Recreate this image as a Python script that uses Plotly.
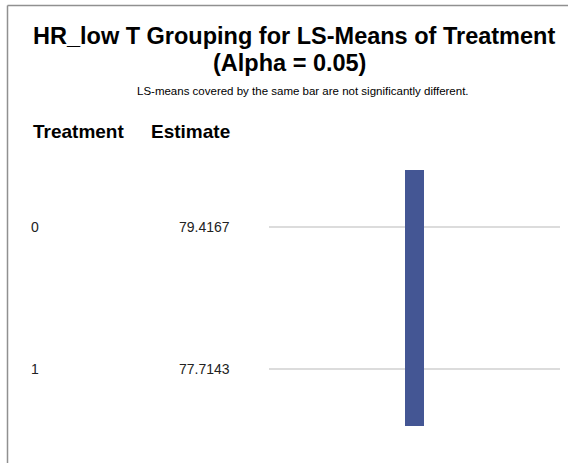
import plotly.graph_objects as go

# ---- data ----
treatments = ["0", "1"]
estimates = ["79.4167", "77.7143"]
# groups of LS-means not significantly different (indices of rows covered)
line_groups = [[0, 1]]
group_positions = [1]

title_line1 = "HR_low T Grouping for LS-Means of Treatment"
title_line2 = "(Alpha = 0.05)"
subtitle = "LS-means covered by the same bar are not significantly different."
col_headers = ["Treatment", "Estimate"]

# ---- layout geometry (pixels) ----
W, H = 568, 463
L, R, T, B = 269, 8, 156, 23
PW, PH = W - L - R, H - T - B
PAD = 0.4
FONT = "Liberation Sans, Arial, sans-serif"


def pxx(x):
    return (x - L) / PW


def pxy(y):
    return (H - B - y) / PH


fig = go.Figure()

bar_base = [min(g) - PAD for g in line_groups]
bar_len = [max(g) - min(g) + 2 * PAD for g in line_groups]
fig.add_trace(go.Bar(
    x=group_positions, y=bar_len, base=bar_base, width=0.064,
    marker=dict(color="#445694", line=dict(width=0)),
    showlegend=False, hoverinfo="skip"))

ann = []
# titles
ann.append(dict(text="<b>" + title_line1 + "</b>", x=pxx(294), y=pxy(36),
                font=dict(size=23.5, color="black", family=FONT)))
ann.append(dict(text="<b>" + title_line2 + "</b>", x=pxx(289), y=pxy(63),
                font=dict(size=23.5, color="black", family=FONT)))
ann.append(dict(text=subtitle, x=pxx(303), y=pxy(91),
                font=dict(size=11.5, color="black", family=FONT)))
# headers
ann.append(dict(text="<b>" + col_headers[0] + "</b>", x=pxx(31), y=pxy(131),
                xanchor="left", font=dict(size=19, color="black", family=FONT)))
ann.append(dict(text="<b>" + col_headers[1] + "</b>", x=pxx(232), y=pxy(131),
                xanchor="right", font=dict(size=19, color="black", family=FONT)))
# rows
for i, (t, e) in enumerate(zip(treatments, estimates)):
    ann.append(dict(text=t, x=pxx(29), y=i, yref="y", xanchor="left",
                    font=dict(size=14, color="#222", family=FONT)))
    ann.append(dict(text=e, x=pxx(232), y=i, yref="y", xanchor="right",
                    font=dict(size=14, color="#222", family=FONT)))

for a in ann:
    a.setdefault("xref", "paper")
    a.setdefault("yref", "paper")
    a.setdefault("xanchor", "center")
    a["yanchor"] = "middle"
    a["showarrow"] = False

shapes = [
    dict(type="line", xref="paper", yref="paper", x0=pxx(7.5), x1=pxx(7.5),
         y0=pxy(5.5), y1=pxy(470), line=dict(color="#909090", width=1.5)),
    dict(type="line", xref="paper", yref="paper", x0=pxx(7.5), x1=pxx(575),
         y0=pxy(5.5), y1=pxy(5.5), line=dict(color="#909090", width=1.5)),
]

fig.update_layout(
    width=W, height=H,
    margin=dict(l=L, r=R, t=T, b=B, pad=0),
    paper_bgcolor="white", plot_bgcolor="white",
    annotations=ann, shapes=shapes,
    xaxis=dict(range=[0.5, 1.5], showgrid=False, zeroline=False,
               showticklabels=False, ticks="", showline=False),
    yaxis=dict(range=[1.5, -0.5], tickvals=list(range(len(treatments))),
               showgrid=True, gridcolor="#dcdcdc", gridwidth=2,
               zeroline=False, showticklabels=False, ticks="", showline=False),
    bargap=0,
)

fig.write_html("out.html", config={"displayModeBar": False})
